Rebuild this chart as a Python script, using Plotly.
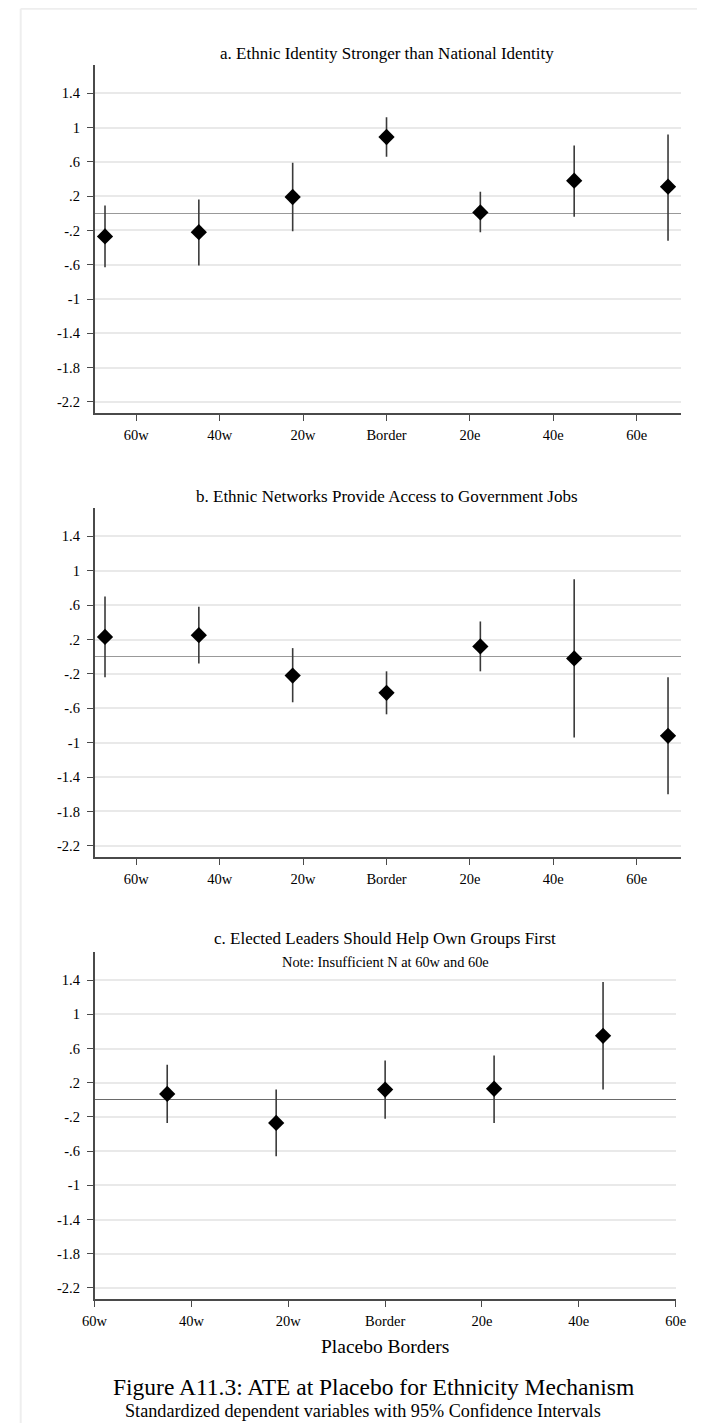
import plotly.graph_objects as go

# ---- data ----
borders_km = [-67.5, -45, -22.5, 0, 22.5, 45, 67.5]
tick_vals = [-60, -40, -20, 0, 20, 40, 60]
tick_text = ["60w", "40w", "20w", "Border", "20e", "40e", "60e"]
y_tick_vals = [1.4, 1, 0.6, 0.2, -0.2, -0.6, -1, -1.4, -1.8, -2.2]
y_tick_text = ["1.4", "1", ".6", ".2", "-.2", "-.6", "-1", "-1.4", "-1.8", "-2.2"]

a_est = [-0.27, -0.22, 0.19, 0.89, 0.01, 0.38, 0.31]
a_lo = [-0.63, -0.61, -0.21, 0.66, -0.22, -0.04, -0.32]
a_hi = [0.09, 0.16, 0.59, 1.12, 0.25, 0.79, 0.92]

b_est = [0.23, 0.25, -0.22, -0.42, 0.12, -0.02, -0.92]
b_lo = [-0.24, -0.08, -0.53, -0.67, -0.17, -0.94, -1.60]
b_hi = [0.70, 0.58, 0.10, -0.17, 0.41, 0.90, -0.24]

c_x = [-45, -22.5, 0, 22.5, 45]
c_est = [0.07, -0.27, 0.12, 0.13, 0.75]
c_lo = [-0.27, -0.66, -0.22, -0.27, 0.12]
c_hi = [0.41, 0.12, 0.46, 0.52, 1.38]

titles = ["a. Ethnic Identity Stronger than National Identity",
          "b. Ethnic Networks Provide Access to Government Jobs",
          "c. Elected Leaders Should Help Own Groups First"]

# the page body has an 8px default margin; size the figure to fit the window
OFF = 8
W, H = 707 - OFF, 1423 - OFF
FONT = "Liberation Serif"


def fx(p):
    return (p - OFF) / W


def fy(p):
    return 1 - (p - OFF) / H


fig = go.Figure()

panels = [
    (borders_km, a_est, a_lo, a_hi, "x", "y"),
    (borders_km, b_est, b_lo, b_hi, "x2", "y2"),
    (c_x, c_est, c_lo, c_hi, "x3", "y3"),
]
for xs, est, lo, hi, xa, ya in panels:
    fig.add_trace(go.Scatter(
        x=xs, y=est, mode="markers",
        marker=dict(symbol="diamond", size=12.5, color="black"),
        error_y=dict(type="data", symmetric=False,
                     array=[h - e for h, e in zip(hi, est)],
                     arrayminus=[e - l for e, l in zip(est, lo)],
                     width=0, thickness=1.6, color="#3a3a3a"),
        xaxis=xa, yaxis=ya, showlegend=False, hoverinfo="skip"))

tickfont = dict(family=FONT, size=14.5, color="black")
axis_common = dict(showline=True, linecolor="#4a4a4a", linewidth=1.5,
                   ticks="outside", ticklen=6, tickcolor="#4a4a4a",
                   tickwidth=1.3, tickfont=tickfont, mirror=False)

y_common = dict(axis_common, range=[-2.33, 1.73], tickvals=y_tick_vals,
                ticktext=y_tick_text, showgrid=True, gridcolor="#e9e9e9",
                gridwidth=1.6, zeroline=True, zerolinewidth=1.4,
                ticklabelstandoff=4)
x_common = dict(axis_common, tickvals=tick_vals, ticktext=tick_text,
                showgrid=False, zeroline=False, ticklabelstandoff=2)

fig.update_layout(
    width=W, height=H,
    margin=dict(l=0, r=0, t=0, b=0),
    paper_bgcolor="white", plot_bgcolor="white",
    font=dict(family=FONT, color="black"),
    xaxis=dict(x_common, domain=[fx(85), fx(690)], range=[-70, 70.5], anchor="y"),
    yaxis=dict(y_common, domain=[fy(413), fy(65)], anchor="x",
               zerolinecolor="#999999"),
    xaxis2=dict(x_common, domain=[fx(85), fx(690)], range=[-70, 70.5], anchor="y2"),
    yaxis2=dict(y_common, domain=[fy(857), fy(508)], anchor="x2",
                zerolinecolor="#999999"),
    xaxis3=dict(x_common, domain=[fx(85), fx(685)], range=[-60, 60], anchor="y3"),
    yaxis3=dict(y_common, domain=[fy(1299), fy(952)], anchor="x3",
                zerolinecolor="#6a6a6a"),
)

ann = [
    (titles[0], 387, 53, 17),
    (titles[1], 387, 496, 17),
    (titles[2], 385, 938, 17),
    ("Note: Insufficient N at 60w and 60e", 385, 962, 14.4),
    ("Placebo Borders", 385, 1346, 19.5),
    ("Figure A11.3: ATE at Placebo for Ethnicity Mechanism", 373, 1387, 23.5),
    ("Standardized dependent variables with 95% Confidence Intervals", 362, 1411, 18.2),
]
for text, x, y, size in ann:
    fig.add_annotation(text=text, x=fx(x), y=fy(y), xref="paper", yref="paper",
                       showarrow=False, xanchor="center", yanchor="middle",
                       font=dict(family=FONT, size=size, color="black"))

# faint page frame at left/top
fig.add_shape(type="line", xref="paper", yref="paper",
              x0=0.001, x1=0.001, y0=0, y1=0.9995,
              line=dict(color="#eeeeee", width=2))
fig.add_shape(type="line", xref="paper", yref="paper",
              x0=0.001, x1=1, y0=0.9995, y1=0.9995,
              line=dict(color="#eeeeee", width=2))

fig.write_html("out.html")
